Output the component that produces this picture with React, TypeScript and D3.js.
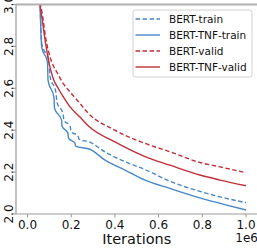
import React from "react";
import * as d3 from "d3";

// iterations in units of 1e6
const bertTrainX = [0.057, 0.066, 0.098, 0.103, 0.130, 0.135, 0.162, 0.167, 0.195, 0.199, 0.231, 0.236, 0.286, 0.355, 0.446, 0.538, 0.652, 0.789, 0.881, 1.0];
const bertTrainY = [3.02, 2.81, 2.733, 2.657, 2.581, 2.533, 2.481, 2.448, 2.419, 2.395, 2.371, 2.357, 2.343, 2.296, 2.250, 2.212, 2.156, 2.108, 2.082, 2.054];

const tnfTrainX = [0.057, 0.065, 0.0915, 0.094, 0.121, 0.1236, 0.156, 0.158, 0.185, 0.188, 0.217, 0.22, 0.286, 0.355, 0.446, 0.538, 0.652, 0.789, 0.881, 1.0];
const tnfTrainY = [3.02, 2.797, 2.724, 2.638, 2.557, 2.505, 2.448, 2.419, 2.386, 2.362, 2.338, 2.324, 2.309, 2.257, 2.21, 2.162, 2.122, 2.077, 2.051, 2.019];

const bertValidX = [0.057, 0.062, 0.072, 0.080, 0.095, 0.111, 0.134, 0.164, 0.195, 0.240, 0.278, 0.40, 0.538, 0.652, 0.789, 0.881, 1.0];
const bertValidY = [3.01, 2.987, 2.924, 2.862, 2.781, 2.725, 2.678, 2.622, 2.582, 2.528, 2.481, 2.40, 2.337, 2.297, 2.246, 2.225, 2.197];

const tnfValidX = [0.055, 0.068, 0.076, 0.088, 0.103, 0.118, 0.141, 0.164, 0.195, 0.240, 0.283, 0.40, 0.538, 0.652, 0.789, 0.881, 1.0];
const tnfValidY = [3.01, 2.924, 2.862, 2.781, 2.701, 2.646, 2.599, 2.559, 2.511, 2.463, 2.416, 2.344, 2.274, 2.233, 2.186, 2.162, 2.135];

const seriesNames = ["BERT-train", "BERT-TNF-train", "BERT-valid", "BERT-TNF-valid"];
const xTicks = [0.0, 0.2, 0.4, 0.6, 0.8, 1.0];
const yTicks = [2.0, 2.2, 2.4, 2.6, 2.8, 3.0];

const BLUE = "#4a87c7";
const RED = "#c0303a";

export default function App() {
  const W = 257, H = 248;
  const left = 16, top = 4.5, bottom = 214, right = 257;
  const x = d3.scaleLinear().domain([0, 1]).range([27.5, 246]);
  const y = d3.scaleLinear().domain([2, 3]).range([bottom, top]);

  const series = [
    { name: seriesNames[0], xs: bertTrainX, ys: bertTrainY, color: BLUE, dash: "4.5,2.5" },
    { name: seriesNames[1], xs: tnfTrainX, ys: tnfTrainY, color: BLUE, dash: "" },
    { name: seriesNames[2], xs: bertValidX, ys: bertValidY, color: RED, dash: "4.5,2.5" },
    { name: seriesNames[3], xs: tnfValidX, ys: tnfValidY, color: RED, dash: "" },
  ];

  const line = d3
    .line<[number, number]>()
    .x((d) => x(d[0]))
    .y((d) => y(d[1]))
    .curve(d3.curveMonotoneX);

  const font = "DejaVu Sans";
  const spine = "#9a9a9a";

  return (
    <svg
      width={W}
      height={H}
      style={{ position: "absolute", left: 0, top: 0, display: "block" }}
      fontFamily={font}
    >
      <defs>
        <clipPath id="plotclip">
          <rect x={left} y={top} width={right - left} height={bottom - top} />
        </clipPath>
      </defs>
      <rect x={0} y={0} width={W} height={H} fill="#fff" />

      <g clipPath="url(#plotclip)">
        {series.map((s) => (
          <path
            key={s.name}
            d={line(s.xs.map((v, i) => [v, s.ys[i]] as [number, number])) || ""}
            fill="none"
            stroke={s.color}
            strokeWidth={1.4}
            strokeDasharray={s.dash || undefined}
            strokeLinejoin="round"
          />
        ))}
      </g>

      {/* spines */}
      <line x1={left} y1={top} x2={right} y2={top} stroke="#b0b0b0" strokeWidth={1.8} />
      <line x1={left} y1={top} x2={left} y2={bottom} stroke={spine} strokeWidth={1.2} />
      <line x1={left} y1={bottom} x2={right} y2={bottom} stroke={spine} strokeWidth={1.2} />

      {/* x ticks */}
      {xTicks.map((t) => (
        <g key={"x" + t}>
          <line x1={x(t)} x2={x(t)} y1={bottom} y2={bottom + 3.5} stroke={spine} strokeWidth={1} />
          <text x={x(t)} y={229} fontSize={12} textAnchor="middle" fill="#111">
            {t.toFixed(1)}
          </text>
        </g>
      ))}

      {/* y ticks */}
      {yTicks.map((t) => (
        <g key={"y" + t}>
          <line x1={left - 3.5} x2={left} y1={y(t)} y2={y(t)} stroke={spine} strokeWidth={1} />
          <text
            transform={`translate(12.5,${y(t)}) rotate(-90)`}
            fontSize={12}
            textAnchor="middle"
            fill="#111"
          >
            {t.toFixed(1)}
          </text>
        </g>
      ))}

      <text x={(x(0) + x(1)) / 2} y={243.5} fontSize={14.5} textAnchor="middle" fill="#111">
        Iterations
      </text>
      <text x={258} y={242} fontSize={12} textAnchor="end" fill="#111">
        1e6
      </text>

      {/* legend */}
      <rect x={133} y={10} width={119} height={67} rx={2.5} fill="#fff" fillOpacity={0.85} stroke="#d0d0d0" strokeWidth={1} />
      {series.map((s, i) => {
        const cy = 19 + i * 16;
        return (
          <g key={"lg" + s.name}>
            <line x1={135.5} x2={160} y1={cy} y2={cy} stroke={s.color} strokeWidth={1.4} strokeDasharray={s.dash || undefined} />
            <text x={169} y={cy + 3.8} fontSize={10.5} fill="#111">
              {s.name}
            </text>
          </g>
        );
      })}
    </svg>
  );
}
